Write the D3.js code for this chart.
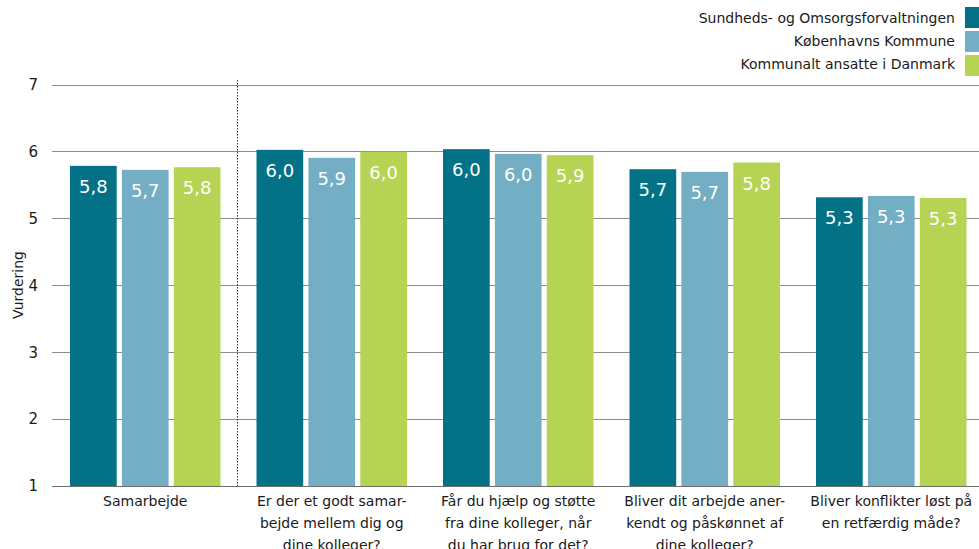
<!DOCTYPE html>
<html><head><meta charset="utf-8">
<script src="https://cdn.jsdelivr.net/npm/d3@7"></script>
<style>body{margin:0;background:#fff}svg{display:block;font-family:"DejaVu Sans",Verdana,sans-serif}</style>
</head><body><svg id="c" width="979" height="549"></svg>
<script>
const categories = [
  ["Samarbejde"],
  ["Er der et godt samar-","bejde mellem dig og","dine kolleger?"],
  ["Får du hjælp og støtte","fra dine kolleger, når","du har brug for det?"],
  ["Bliver dit arbejde aner-","kendt og påskønnet af","dine kolleger?"],
  ["Bliver konflikter løst på","en retfærdig måde?"]
];
const seriesNames = ["Sundheds- og Omsorgsforvaltningen","Københavns Kommune","Kommunalt ansatte i Danmark"];
const sundhed = [5.79, 6.03, 6.04, 5.74, 5.32];
const kommune = [5.73, 5.91, 5.97, 5.70, 5.34];
const danmark = [5.77, 6.00, 5.95, 5.84, 5.31];
const sundhedLabels = ["5,8","6,0","6,0","5,7","5,3"];
const kommuneLabels = ["5,7","5,9","6,0","5,7","5,3"];
const danmarkLabels = ["5,8","6,0","5,9","5,8","5,3"];
const yTicks = [1,2,3,4,5,6,7];
const colors = ["#037287","#74aec5","#b6d354"];

const series = [sundhed, kommune, danmark];
const labels = [sundhedLabels, kommuneLabels, danmarkLabels];
const svg = d3.select("#c");
const y = d3.scaleLinear().domain([1,7]).range([486,85]);
const x0 = d3.scaleBand().domain(d3.range(categories.length)).range([52,984.5]).paddingInner(0).paddingOuter(0);
const x1 = d3.scaleBand().domain([0,1,2]).range([18, 168.5]).paddingInner(0.1);

// gridlines
svg.append("g").selectAll("line").data(yTicks).join("line")
  .attr("x1",52).attr("x2",979).attr("y1",d=>y(d)).attr("y2",d=>y(d))
  .attr("stroke",d=>d===1?"#6e6e6e":"#8c8c8c").attr("stroke-width",1).attr("shape-rendering","crispEdges");

// y axis labels
const yAxis = d3.axisLeft(y).tickValues(yTicks).tickSize(0).tickPadding(0).tickFormat(d3.format("d"));
const ga = svg.append("g").attr("transform","translate(38,0)").call(yAxis);
ga.select(".domain").remove();
ga.selectAll("text").attr("font-size",15).attr("fill","#1a1a1a").attr("font-family","DejaVu Sans, sans-serif");

svg.append("text").attr("transform","translate(23,285) rotate(-90)").attr("text-anchor","middle")
  .attr("font-size",14).attr("fill","#1a1a1a").text("Vurdering");

// dotted separator
svg.append("line").attr("x1",237.5).attr("x2",237.5).attr("y1",80).attr("y2",486)
  .attr("stroke","#333").attr("stroke-dasharray","1.5,1.5").attr("stroke-width",1);

// bars
const groups = svg.append("g").selectAll("g").data(categories).join("g")
  .attr("transform",(d,i)=>`translate(${x0(i)},0)`);
groups.each(function(cat,i){
  const g = d3.select(this);
  series.forEach((s,j)=>{
    g.append("rect").attr("x",x1(j)).attr("width",x1.bandwidth())
      .attr("y",y(s[i])).attr("height",y(1)-y(s[i])).attr("fill",colors[j]);
    g.append("text").attr("x",x1(j)+x1.bandwidth()/2).attr("y",y(s[i])+27)
      .attr("text-anchor","middle").attr("fill","#fff").attr("font-size",18).text(labels[j][i]);
  });
  const t = g.append("text").attr("text-anchor","middle").attr("font-size",14).attr("fill","#1a1a1a");
  cat.forEach((line,k)=>{
    t.append("tspan").attr("x",x0.bandwidth()/2).attr("y",506+k*22).text(line);
  });
});

// legend
const lg = svg.append("g");
seriesNames.forEach((n,i)=>{
  lg.append("rect").attr("x",965).attr("y",7+i*24).attr("width",16).attr("height",21).attr("fill",colors[i]);
  lg.append("text").attr("x",955).attr("y",23+i*23).attr("text-anchor","end").attr("font-size",14)
    .attr("fill","#1a1a1a").text(n);
});
</script></body></html>
